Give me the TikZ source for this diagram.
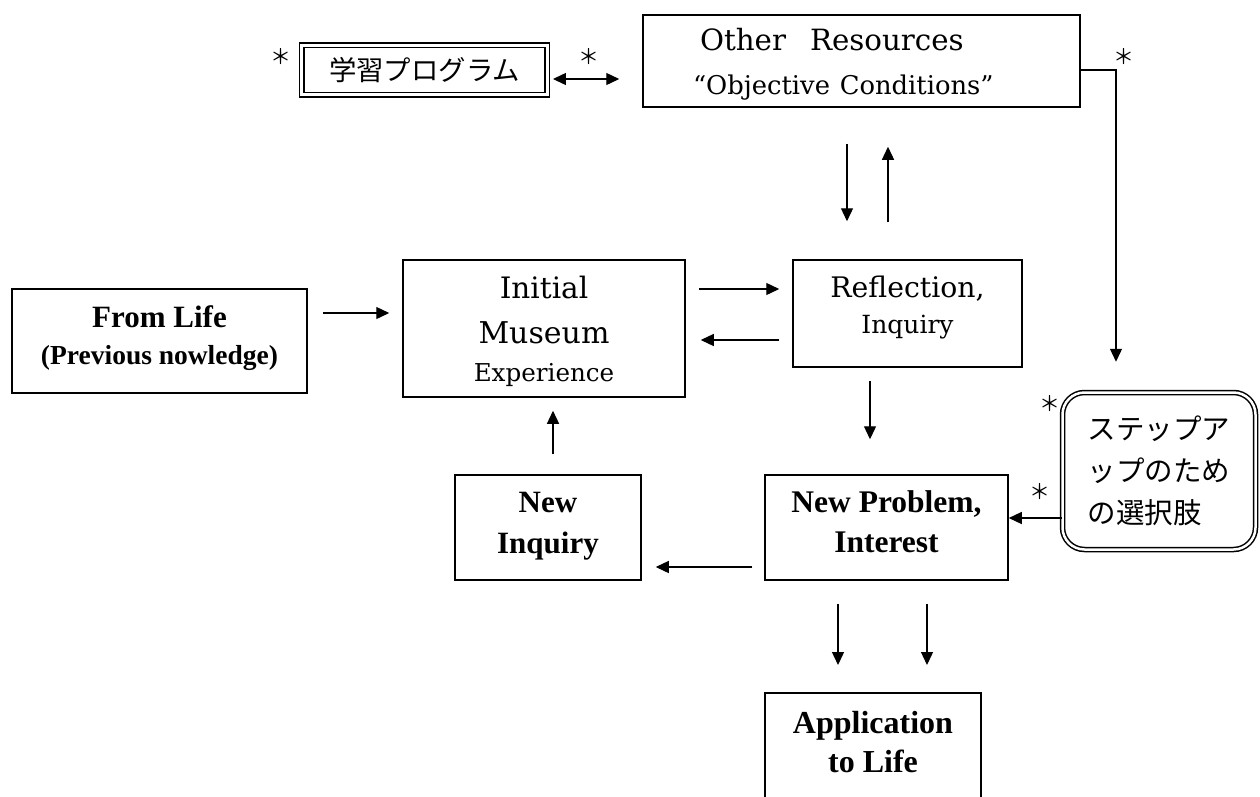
\documentclass[tikz,border=0pt]{standalone}
\usepackage{fontspec}
\setmainfont{Liberation Serif}
\newfontfamily\schl{DejaVu Serif}
\newfontfamily\jp{Noto Sans CJK JP}
\usetikzlibrary{arrows.meta}
% invisible struts that deepen or heighten a line of a node
\newcommand{\lowpad}[1]{\rule[-#1pt]{0pt}{0pt}}
\newcommand{\toppad}[1]{\rule{0pt}{#1pt}}
\begin{document}
\begin{tikzpicture}[x=1pt,y=-1pt,
  box/.style={draw, line width=1.5pt, inner sep=0pt, align=center},
  arr/.style={line width=1.3pt, -{Triangle[length=13pt,width=12pt]}},
  biarr/.style={line width=1.3pt, {Triangle[length=13pt,width=12pt]}-{Triangle[length=13pt,width=12pt]}},
  star/.style={font=\jp\fontsize{21}{21}\selectfont, inner sep=0pt},
]
\useasboundingbox[fill=white] (0,0) rectangle (1260,796);

% boxes
\node[draw, double, double distance=2.8pt, line width=1.4pt, inner sep=0pt,
      minimum width=245.5, minimum height=49.5,
      font=\jp\fontsize{27.4}{30}\selectfont] (prog) at (424.5,70) {学習プログラム};

\node[box, minimum width=437, minimum height=92, text width=337, align=left,
      font=\schl\fontsize{29.3}{44}\selectfont] (res) at (861.5,61)
  {\toppad{28}\hspace{7pt}Other\hspace{24pt}Resources\\
   \fontsize{25.8}{44}\selectfont “Objective Conditions”};

\node[box, minimum width=295, minimum height=104,
      font=\bfseries\fontsize{31}{37}\selectfont] (life) at (159.5,341)
  {From Life\\\fontsize{27.5}{37}\selectfont (Previous nowledge)\lowpad{12}};

\node[box, minimum width=282, minimum height=137,
      font=\schl\fontsize{29.5}{45}\selectfont] (init) at (544,328.5)
  {\toppad{28.5}Initial\\\fontsize{30}{45}\selectfont Museum\\[-7pt]\fontsize{24.6}{38}\selectfont Experience};

\node[box, minimum width=229, minimum height=107,
      font=\schl\fontsize{28.3}{36}\selectfont] (refl) at (907.5,313.5)
  {Reflection,\\\fontsize{25}{36}\selectfont Inquiry\lowpad{18}};

\node[box, minimum width=186, minimum height=105,
      font=\bfseries\fontsize{31}{41}\selectfont] (ni) at (548,527.5)
  {New\\Inquiry\lowpad{10}};

\node[box, minimum width=243, minimum height=105,
      font=\bfseries\fontsize{31.5}{40}\selectfont] (np) at (886.5,527.5)
  {New Problem,\\Interest\lowpad{12}};

\node[draw, double, double distance=2.5pt, line width=1.5pt, rounded corners=22pt,
      inner sep=0pt, minimum width=193, minimum height=157, align=left,
      font=\jp\fontsize{28.5}{42}\selectfont] (step) at (1159,471)
  {ステップア\\ップのため\\の選択肢};

\node[anchor=north, inner ysep=18pt, inner xsep=0pt, minimum width=216, align=center,
      font=\bfseries\fontsize{32}{39}\selectfont] (app) at (873,693) {Application\\to Life};
\draw[line width=1.5pt] (app.north west |- 0,820) -- (app.north west)
  -- (app.north east) -- (app.north east |- 0,820);

% stars
\node[star] (s1) at (281,57) {＊};
\node[star] (s2) at (589,57) {＊};
\node[star] (s3) at (1124,57) {＊};
\node[star] (s4) at (1050,404) {＊};
\node[star] (s5) at (1040,492) {＊};

% connectors
\draw[biarr, shorten <=5pt, shorten >=23pt] (prog.east |- 0,79) -- (res.west |- 0,79);
\draw[arr] ([shift={(0,9)}]res.east) -| ([shift={(-43,-30)}]step.north);
\draw[arr, shorten <=36pt, shorten >=38pt] (res.south -| 847,0) -- (refl.north -| 847,0);
\draw[arr, shorten <=37pt, shorten >=39pt] (refl.north -| 888,0) -- (res.south -| 888,0);
\draw[arr, shorten <=15pt, shorten >=13pt] (life.east |- 0,313) -- (init.west |- 0,313);
\draw[arr, shorten <=13pt, shorten >=13pt] (init.east |- 0,289) -- (refl.west |- 0,289);
\draw[arr, shorten <=13pt, shorten >=15pt] (refl.west |- 0,340) -- (init.east |- 0,340);
\draw[arr, shorten <=13pt, shorten >=35pt] (refl.south -| 870,0) -- (np.north -| 870,0);
\draw[arr] (step.west |- 0,518) -- (np.east |- 0,518);
\draw[arr, shorten <=12pt, shorten >=14pt] (np.west |- 0,567) -- (ni.east |- 0,567);
\draw[arr, shorten <=20pt, shorten >=13pt] (ni.north -| 553,0) -- (init.south -| 553,0);
\draw[arr, shorten <=23pt, shorten >=28pt] (np.south -| 838,0) -- (app.north -| 838,0);
\draw[arr, shorten <=23pt, shorten >=28pt] (np.south -| 927,0) -- (app.north -| 927,0);
\end{tikzpicture}
\end{document}
